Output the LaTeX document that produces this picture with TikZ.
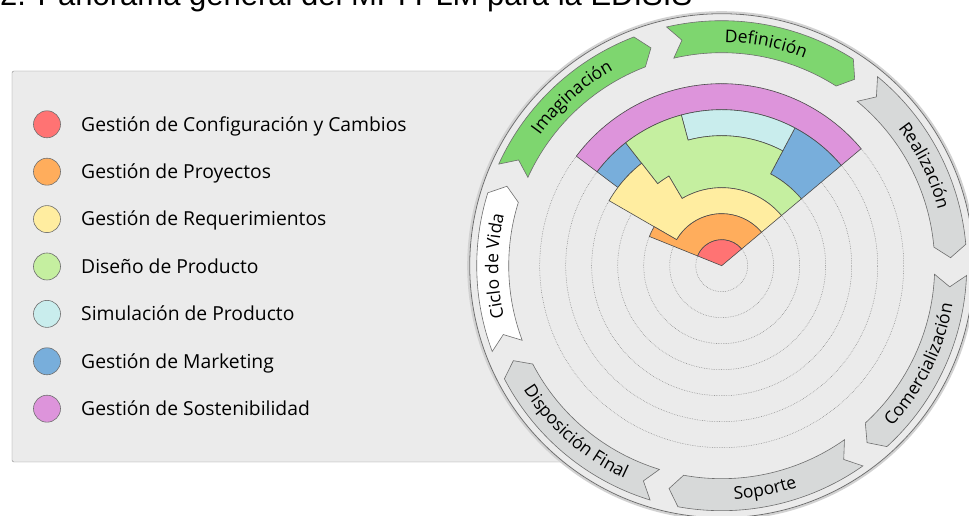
\documentclass[tikz,border=0pt]{standalone}
\usepackage{fontspec}
\setmainfont{Open Sans}
\newfontfamily\titlefont{Liberation Sans}
\newcommand{\phasefont}{\fontsize{17.5}{20}\selectfont}
\usepackage{tikz}
\usetikzlibrary{positioning,decorations.text}
\definecolor{cfgred}{RGB}{255,115,115}
\definecolor{projorange}{RGB}{255,173,92}
\definecolor{reqyellow}{RGB}{255,237,160}
\definecolor{designgreen}{RGB}{197,239,160}
\definecolor{simcyan}{RGB}{201,237,237}
\definecolor{mktblue}{RGB}{120,174,219}
\definecolor{sustpurple}{RGB}{221,148,219}
\definecolor{phasegreen}{RGB}{126,214,111}
\definecolor{phasegray}{RGB}{215,217,217}
\definecolor{panel}{RGB}{235,235,235}
\definecolor{edge}{RGB}{110,110,110}

% chevron band of the life cycle ring: back angle, front angle, fill
\newcommand{\phaseband}[3]{%
  \filldraw[band, fill=#3] (#1:245) arc[start angle=#1, end angle=#2, radius=245]
    -- ({#2-3}:229) -- (#2:213) arc[start angle=#2, end angle=#1, radius=213]
    -- ({#1-3}:229) -- cycle;}
% text on a band, tops outward / tops inward
\newcommand{\phaseout}[3]{%
  \path[decorate, decoration={text along path, text align=center,
        text={|\phasefont|#3}}]
    (#1:223.5) arc[start angle=#1, end angle={#2-3}, radius=223.5];}
\newcommand{\phasein}[3]{%
  \path[decorate, decoration={text along path, text align=center,
        text={|\phasefont|#3}}]
    ({#2-3}:234) arc[start angle={#2-3}, end angle=#1, radius=234];}

\begin{document}
\begin{tikzpicture}[x=1pt, y=1pt,
    dot/.style={circle, draw=edge, line width=0.6pt, minimum size=27pt, inner sep=0pt},
    lbl/.style={inner sep=0pt, font=\fontsize{19.3}{22}\selectfont,
                text height=13.8pt, text depth=0pt},
    band/.style={draw=edge, line width=0.6pt},
    area/.style={draw=black!70, line width=0.6pt},
    ringline/.style={black!50, line width=0.5pt, dash pattern=on 0.6pt off 1.1pt}
  ]
  \useasboundingbox (0,0) rectangle (969,516);
  \clip (0,0) rectangle (969,516);

  % title, cut off at the top
  \node[anchor=base west, inner sep=0pt, font=\titlefont\fontsize{31}{36}\selectfont]
    (title) at (0,510) {2. Panorama general del MPI PLM para la EDISIS};

  % legend panel
  \filldraw[fill=panel, draw=edge!80, rounded corners=2pt] (12,54) rectangle (700,445);
  \node[dot, fill=cfgred] (d1) at (47,391.7) {};
  \node[dot, fill=projorange, below=19.8pt of d1] (d2) {};
  \node[dot, fill=reqyellow, below=19.8pt of d2] (d3) {};
  \node[dot, fill=designgreen, below=19.8pt of d3] (d4) {};
  \node[dot, fill=simcyan, below=19.8pt of d4] (d5) {};
  \node[dot, fill=mktblue, below=19.8pt of d5] (d6) {};
  \node[dot, fill=sustpurple, below=19.8pt of d6] (d7) {};
  \node[lbl, right=20.2pt of d1] (t1) {Gestión de Configuración y Cambios};
  \node[lbl, right=20.2pt of d2] (t2) {Gestión de Proyectos};
  \node[lbl, right=20.2pt of d3] (t3) {Gestión de Requerimientos};
  \node[lbl, right=20.2pt of d4] (t4) {Diseño de Producto};
  \node[lbl, right=20.2pt of d5] (t5) {Simulación de Producto};
  \node[lbl, right=20.2pt of d6] (t6) {Gestión de Marketing};
  \node[lbl, right=20.2pt of d7] (t7) {Gestión de Sostenibilidad};

  \begin{scope}[shift={(721.7,250.3)}]
    % disc
    \draw[gray!35, line width=2pt] (0,0) circle[radius=253.5];
    \filldraw[fill=panel, draw=edge, line width=0.8pt] (0,0) circle[radius=252];
    \draw[ringline] (0,0) circle[radius=26] circle[radius=52] circle[radius=78]
      circle[radius=104] circle[radius=130] circle[radius=156] circle[radius=182];

    % areas
    \filldraw[area, fill=sustpurple] (40:156) -- (40:182) arc[start angle=40, end angle=143, radius=182]
      -- (143:156) arc[start angle=143, end angle=40, radius=156] -- cycle;
    \filldraw[area, fill=mktblue] (40:104) -- (40:156) arc[start angle=40, end angle=62, radius=156]
      -- (62:104) arc[start angle=62, end angle=40, radius=104] -- cycle;
    \filldraw[area, fill=mktblue] (128:130) -- (128:156) arc[start angle=128, end angle=143, radius=156]
      -- (143:130) arc[start angle=143, end angle=128, radius=130] -- cycle;
    \filldraw[area, fill=simcyan] (62:130) -- (62:156) arc[start angle=62, end angle=105, radius=156]
      -- (105:130) arc[start angle=105, end angle=62, radius=130] -- cycle;
    \filldraw[area, fill=designgreen] (40:78) -- (40:104) arc[start angle=40, end angle=62, radius=104]
      -- (62:130) arc[start angle=62, end angle=105, radius=130]
      -- (105:156) arc[start angle=105, end angle=128, radius=156]
      -- (128:104) arc[start angle=128, end angle=120.5, radius=104]
      -- (120.5:78) arc[start angle=120.5, end angle=40, radius=78] -- cycle;
    \filldraw[area, fill=reqyellow] (40:52) -- (40:78) arc[start angle=40, end angle=120.5, radius=78]
      -- (120.5:104) arc[start angle=120.5, end angle=128, radius=104]
      -- (128:130) arc[start angle=128, end angle=150, radius=130]
      -- (150:52) arc[start angle=150, end angle=40, radius=52] -- cycle;
    \filldraw[area, fill=projorange] (40:26) -- (40:52) arc[start angle=40, end angle=150, radius=52]
      -- (150:78) arc[start angle=150, end angle=158, radius=78]
      -- (158:26) arc[start angle=158, end angle=40, radius=26] -- cycle;
    \filldraw[area, fill=cfgred] (0,0) -- (40:26) arc[start angle=40, end angle=158, radius=26] -- cycle;

    % life cycle ring
    \phaseband{200.5}{162.7}{white}
    \phaseband{155.5}{111}{phasegreen}
    \phaseband{103}{57.5}{phasegreen}
    \phaseband{50.5}{5}{phasegray}
    \phaseband{-2.3}{-47.6}{phasegray}
    \phaseband{-54.8}{-100.3}{phasegray}
    \phaseband{-107}{-152.5}{phasegray}
    \phaseout{200.5}{162.7}{Ciclo de Vida}
    \phaseout{155.5}{111}{Imaginación}
    \phaseout{103}{57.5}{Definición}
    \phaseout{50.5}{5}{Realización}
    \phasein{-2.3}{-47.6}{Comercialización}
    \phasein{-54.8}{-100.3}{Soporte}
    \phasein{-107}{-152.5}{Disposición Final}
  \end{scope}
\end{tikzpicture}
\end{document}
